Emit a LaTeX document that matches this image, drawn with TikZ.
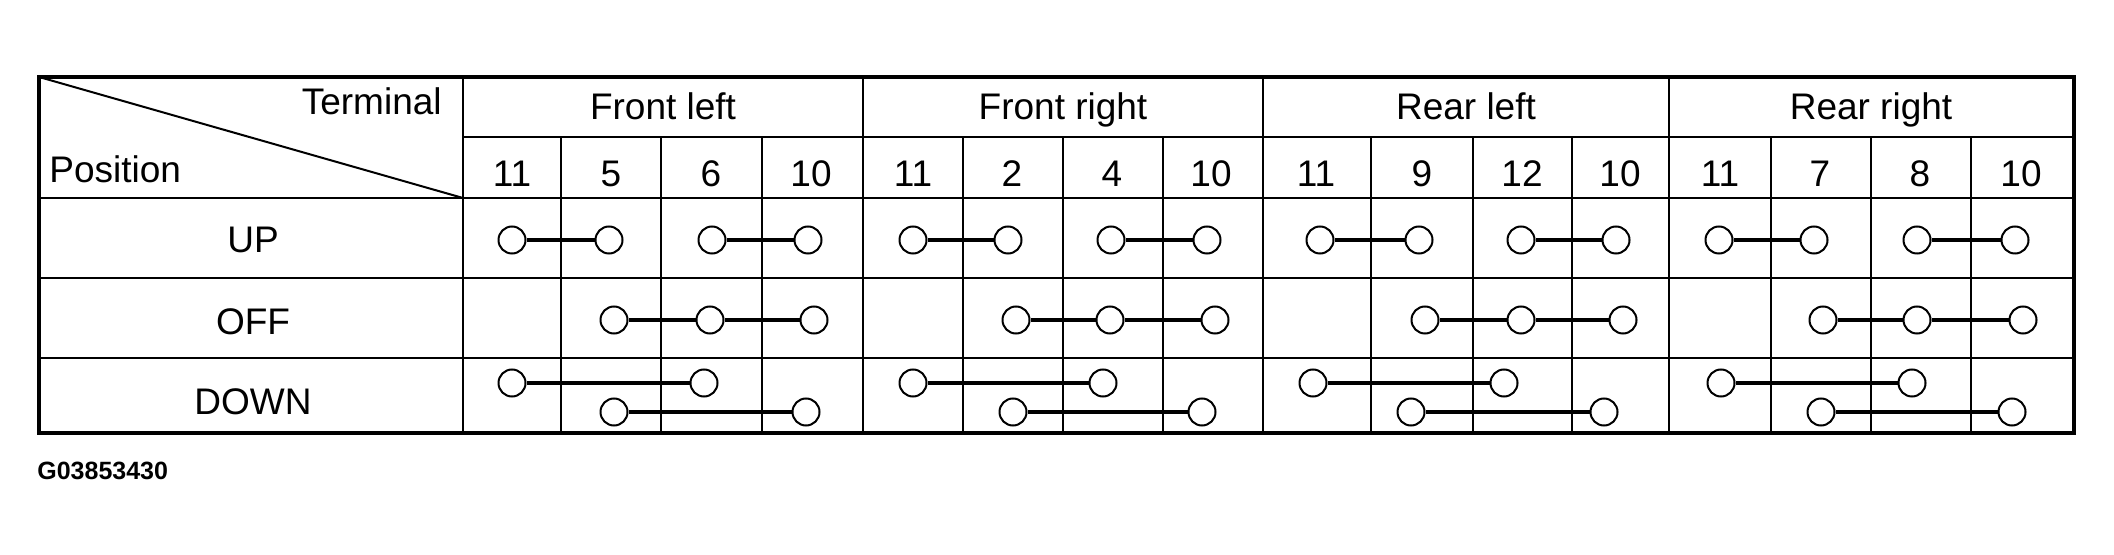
\documentclass[tikz,border=0pt]{standalone}
\usepackage{fontspec}
\setmainfont{Liberation Sans}
\begin{document}
\begin{tikzpicture}[x=0.5pt,y=-0.5pt,
  term/.style={circle,draw,line width=1pt,minimum size=13.5pt,inner sep=0pt,fill=white},
  conn/.style={line width=1.6pt},
  outer/.style={line width=1.9pt},
  inner/.style={line width=1pt},
  lbl/.style={font=\fontsize{18.5}{22}\selectfont,inner sep=0pt},
  code/.style={font=\fontsize{12.5}{15}\selectfont\bfseries,inner sep=0pt}]
\useasboundingbox (0,0) rectangle (2114,555);
% grid
\draw[inner] (463,137) -- (2074,137);
\foreach \y in {198,278,358} \draw[inner] (39,\y) -- (2074,\y);
\foreach \x in {463,863,1263,1669} \draw[inner] (\x,77) -- (\x,433);
\foreach \x in {561,661,762,963,1063,1163,1371,1473,1572,1771,1871,1971} \draw[inner] (\x,137) -- (\x,433);
\draw[inner] (39,77) -- (463,198);
\draw[outer] (39,77) rectangle (2074,433);
% header texts
\node[lbl,anchor=base east] (tterm) at (442,115) {Terminal};
\node[lbl,anchor=base west] (tpos) at (49,183) {Position};
\node[lbl,anchor=base] (gfl) at (663,120) {Front left};
\node[lbl,anchor=base] (gfr) at (1063,120) {Front right};
\node[lbl,anchor=base] (grl) at (1466,120) {Rear left};
\node[lbl,anchor=base] (grr) at (1871,120) {Rear right};
\foreach \x/\t/\n in {512/11/a,611/5/b,711/6/c,811/10/d,913/11/e,1012/2/f,1112/4/g,1211/10/h,1316/11/i,1422/9/j,1522/12/k,1620/10/l,1720/11/m,1820/7/n,1920/8/o,2021/10/p}
  \node[lbl,anchor=base] (num\n) at (\x,187) {\t};
\node[lbl,anchor=base] (rup) at (253,253) {UP};
\node[lbl,anchor=base] (roff) at (253,335) {OFF};
\node[lbl,anchor=base] (rdown) at (253,415) {DOWN};
\node[code,anchor=base west] (gcode) at (37,480) {G03853430};
% UP row
\node[term] (u1) at (512,240) {};
\node[term] (u2) at (609,240) {};
\node[term] (u3) at (712,240) {};
\node[term] (u4) at (808,240) {};
\node[term] (u5) at (913,240) {};
\node[term] (u6) at (1008,240) {};
\node[term] (u7) at (1111,240) {};
\node[term] (u8) at (1207,240) {};
\node[term] (u9) at (1320,240) {};
\node[term] (u10) at (1419,240) {};
\node[term] (u11) at (1521,240) {};
\node[term] (u12) at (1616,240) {};
\node[term] (u13) at (1719,240) {};
\node[term] (u14) at (1814,240) {};
\node[term] (u15) at (1917,240) {};
\node[term] (u16) at (2015,240) {};
\draw[conn] (u1) -- (u2);
\draw[conn] (u3) -- (u4);
\draw[conn] (u5) -- (u6);
\draw[conn] (u7) -- (u8);
\draw[conn] (u9) -- (u10);
\draw[conn] (u11) -- (u12);
\draw[conn] (u13) -- (u14);
\draw[conn] (u15) -- (u16);
% OFF row
\node[term] (o1) at (614,320) {};
\node[term] (o2) at (710,320) {};
\node[term] (o3) at (814,320) {};
\node[term] (o4) at (1016,320) {};
\node[term] (o5) at (1110,320) {};
\node[term] (o6) at (1215,320) {};
\node[term] (o7) at (1425,320) {};
\node[term] (o8) at (1521,320) {};
\node[term] (o9) at (1623,320) {};
\node[term] (o10) at (1823,320) {};
\node[term] (o11) at (1917,320) {};
\node[term] (o12) at (2023,320) {};
\draw[conn] (o1) -- (o2) -- (o3);
\draw[conn] (o4) -- (o5) -- (o6);
\draw[conn] (o7) -- (o8) -- (o9);
\draw[conn] (o10) -- (o11) -- (o12);
% DOWN row
\node[term] (d1) at (512,383) {};
\node[term] (d2) at (704,383) {};
\node[term] (d3) at (614,412) {};
\node[term] (d4) at (806,412) {};
\node[term] (d5) at (913,383) {};
\node[term] (d6) at (1103,383) {};
\node[term] (d7) at (1013,412) {};
\node[term] (d8) at (1202,412) {};
\node[term] (d9) at (1313,383) {};
\node[term] (d10) at (1504,383) {};
\node[term] (d11) at (1411,412) {};
\node[term] (d12) at (1604,412) {};
\node[term] (d13) at (1721,383) {};
\node[term] (d14) at (1912,383) {};
\node[term] (d15) at (1821,412) {};
\node[term] (d16) at (2012,412) {};
\draw[conn] (d1) -- (d2);
\draw[conn] (d3) -- (d4);
\draw[conn] (d5) -- (d6);
\draw[conn] (d7) -- (d8);
\draw[conn] (d9) -- (d10);
\draw[conn] (d11) -- (d12);
\draw[conn] (d13) -- (d14);
\draw[conn] (d15) -- (d16);
\end{tikzpicture}
\end{document}
